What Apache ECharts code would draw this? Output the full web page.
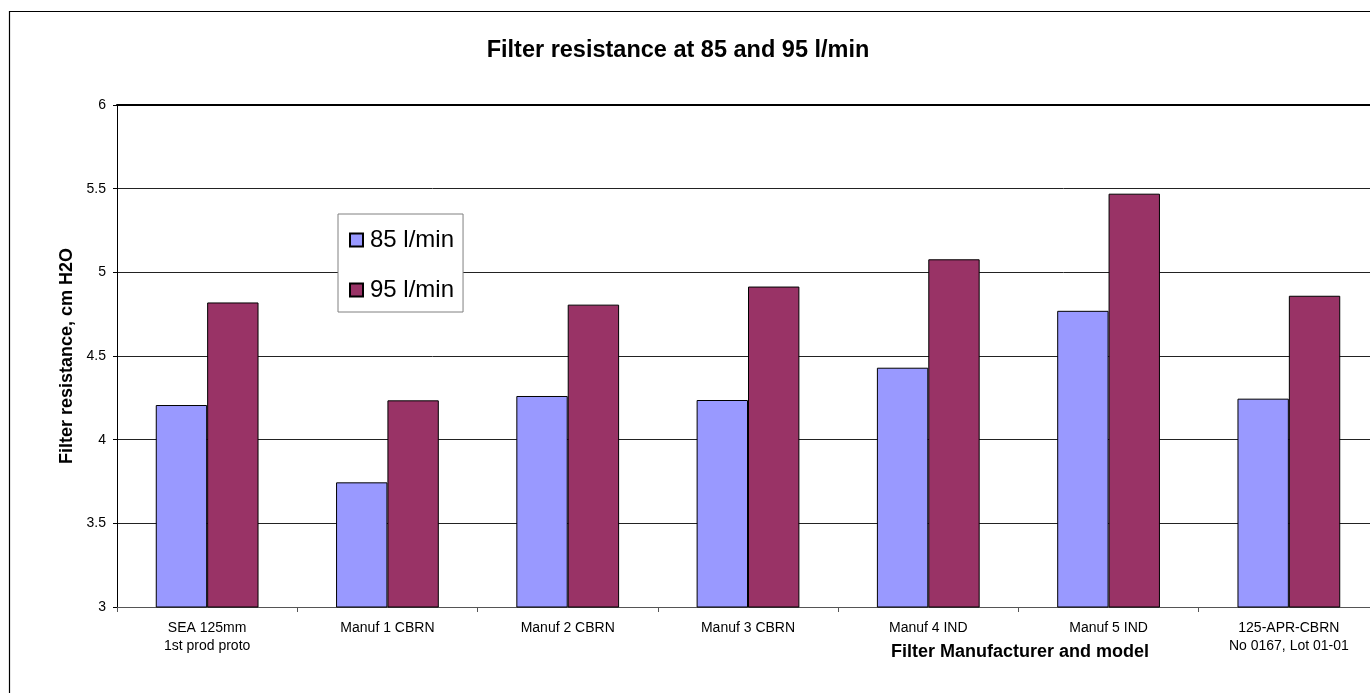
<!DOCTYPE html>
<html>
<head>
<meta charset="utf-8">
<script src="https://cdn.jsdelivr.net/npm/echarts@6/dist/echarts.min.js"></script>
<style>
html,body{margin:0;padding:0;background:#fff;overflow:hidden;width:1370px;height:693px;}
#chart{width:1390px;height:693px;}
</style>
</head>
<body>
<div id="chart"></div>
<script>
const categories = ['SEA 125mm\n1st prod proto','Manuf 1 CBRN','Manuf 2 CBRN','Manuf 3 CBRN','Manuf 4 IND','Manuf 5 IND','125-APR-CBRN\nNo 0167, Lot 01-01'];
const flow85 = [4.207, 3.745, 4.261, 4.237, 4.43, 4.77, 4.245];
const flow95 = [4.82, 4.235, 4.807, 4.915, 5.078, 5.47, 4.86];
const seriesNames = ['85 l/min','95 l/min'];
const titleText = 'Filter resistance at 85 and 95 l/min';
const yAxisName = 'Filter resistance, cm H2O';
const xAxisName = 'Filter Manufacturer and model';

const chart = echarts.init(document.getElementById('chart'), null, {renderer:'canvas'});
const font = 'Arial, "Liberation Sans", sans-serif';
chart.setOption({
  animation:false,
  backgroundColor:'#fff',
  title:{text:titleText,left:673,textAlign:'center',top:34,
    textStyle:{fontFamily:font,fontSize:23.5,fontWeight:'bold',color:'#000'}},
  legend:{orient:'vertical',left:338,top:214,padding:[14,9,10,11],itemGap:26,
    itemWidth:13,itemHeight:13,borderColor:'#808080',borderWidth:1,
    backgroundColor:'#fff',icon:'rect',
    textStyle:{fontFamily:font,fontSize:24,color:'#000',padding:[0,0,0,2]},
    data:seriesNames},
  grid:{left:117,top:105,bottom:86,right:11,containLabel:false},
  xAxis:[{type:'category',data:categories,
    axisLine:{lineStyle:{color:'#555',width:1}},
    axisTick:{show:true,length:5,alignWithLabel:false,lineStyle:{color:'#555'}},
    axisLabel:{fontFamily:font,fontSize:14,color:'#000',margin:12,lineHeight:18,interval:0},
    splitLine:{show:false}},
    {type:'category',position:'top',data:categories,
     axisLine:{lineStyle:{color:'#000',width:2}},axisTick:{show:false},axisLabel:{show:false}}],
  yAxis:{type:'value',min:3,max:6,interval:0.5,
    name:yAxisName,nameLocation:'middle',nameGap:40,
    nameTextStyle:{fontFamily:font,fontSize:18,fontWeight:'bold',color:'#000'},
    axisLine:{show:true,lineStyle:{color:'#000',width:1}},
    axisTick:{show:true,length:4,lineStyle:{color:'#000'}},
    axisLabel:{fontFamily:font,fontSize:14,color:'#000',margin:11},
    splitLine:{lineStyle:{color:'#222',width:1}}},
  series:[
    {name:seriesNames[0],type:'bar',data:flow85,barGap:'0%',barCategoryGap:'43%',
     itemStyle:{color:'#9999FF',borderColor:'#000',borderWidth:1}},
    {name:seriesNames[1],type:'bar',data:flow95,barGap:'0%',barCategoryGap:'43%',
     itemStyle:{color:'#993366',borderColor:'#000',borderWidth:1}}
  ],
  graphic:[
    {type:'rect',shape:{x:9.5,y:11.5,width:1420,height:720},
     style:{fill:'none',stroke:'#000',lineWidth:1.2},silent:true,z:100},
    {type:'text',x:1020,y:652,style:{text:xAxisName,fontFamily:font,fontSize:18,fontWeight:'bold',
      fill:'#000',textAlign:'center',textVerticalAlign:'middle'}}
  ]
});
</script>
</body>
</html>
